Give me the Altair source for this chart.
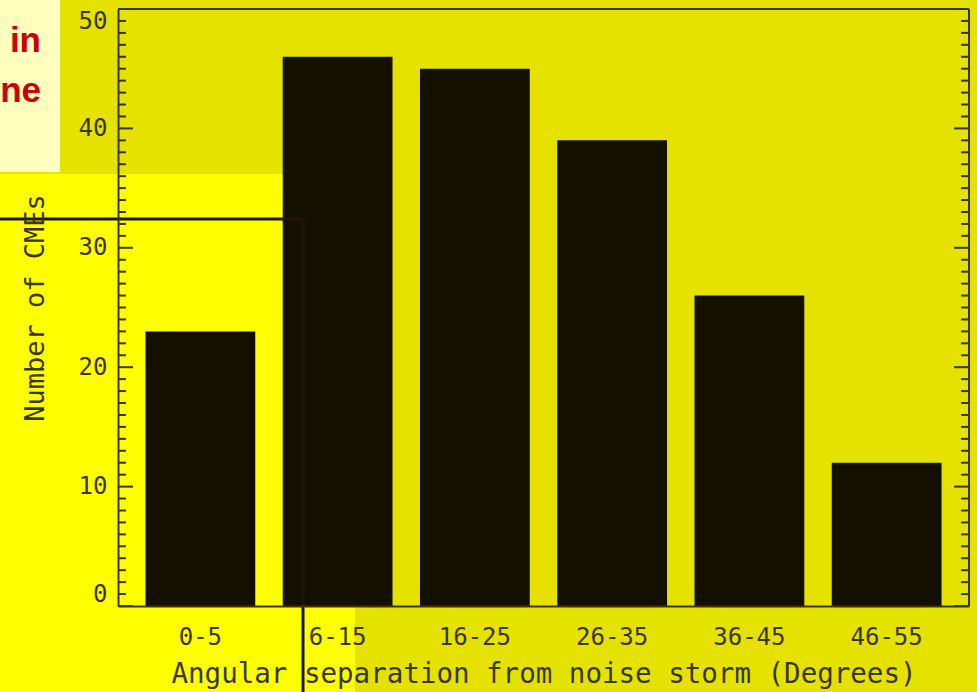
import altair as alt
import pandas as pd

# Histogram of CMEs by angular separation from the noise storm
categories = ["0-5", "6-15", "16-25", "26-35", "36-45", "46-55"]
counts = [23, 46, 45, 39, 26, 12]

major_ticks = [0, 10, 20, 30, 40, 50]
minor_ticks = [v for v in range(51) if v % 10]

note_lines = ["in", "ne"]

# plot-area size and the padding around it
W, H = 851, 597
PAD = {"left": 118, "top": 9, "right": 8, "bottom": 86}

INK = "#3a3600"
BAR = "#141000"
FONT = "DejaVu Sans Mono"

bars_df = pd.DataFrame({"sep": categories, "n": counts})
one = pd.DataFrame({"k": [0]})

x_axis = alt.Axis(
    title="Angular separation from noise storm (Degrees)",
    labelAngle=0, ticks=False, grid=False,
    domainColor=INK, domainWidth=2,
    labelFont=FONT, labelFontSize=24, labelColor=INK, labelPadding=19,
    titleFont=FONT, titleFontSize=27.5, titleFontWeight="normal", titleColor=INK,
    titleY=76, titleBaseline="alphabetic", zindex=1,
)
y_axis = alt.Axis(
    title="Number of CMEs",
    values=major_ticks, ticks=False, grid=False, labelFlush=True,
    domainColor=INK, domainWidth=2,
    labelFont=FONT, labelFontSize=24, labelColor=INK, labelPadding=11,
    titleFont=FONT, titleFontSize=27, titleFontWeight="normal", titleColor=INK,
    titleAngle=-90, titleX=-75, titleY=H / 2, titleAlign="center",
    titleBaseline="alphabetic", zindex=1,
)

y_scale = alt.Scale(domain=[0, 50], nice=False, zero=True)

# slide panels behind the chart
bright_panel = alt.Chart(one).mark_rect(color="#FFFF00").encode(
    x=alt.value(-PAD["left"]), x2=alt.value(237),
    y=alt.value(165), y2=alt.value(H + PAD["bottom"]),
)
note_panel = alt.Chart(one).mark_rect(color="#FFFFBE").encode(
    x=alt.value(-PAD["left"]), x2=alt.value(-58),
    y=alt.value(-PAD["top"]), y2=alt.value(163),
)
note_text = [
    alt.Chart(pd.DataFrame({"t": [line]})).mark_text(
        font="Liberation Sans", fontSize=35, fontWeight="bold",
        color="#CC0000", align="right", baseline="alphabetic",
    ).encode(text="t:N", x=alt.value(-77), y=alt.value(yb))
    for line, yb in zip(note_lines, [43, 93])
]

bars = alt.Chart(bars_df).mark_bar(color=BAR).encode(
    x=alt.X("sep:N", sort=categories,
            scale=alt.Scale(paddingInner=0.2, paddingOuter=0.2), axis=x_axis),
    y=alt.Y("n:Q", scale=y_scale, axis=y_axis),
)

def tick_layer(values, x0, x1):
    return alt.Chart(pd.DataFrame({"n": values})).mark_rule(
        color=INK, strokeWidth=2
    ).encode(y=alt.Y("n:Q", scale=y_scale), x=alt.value(x0), x2=alt.value(x1))

ticks = [
    tick_layer(major_ticks, 0, 15),
    tick_layer(minor_ticks, 0, 8),
    tick_layer(major_ticks, W - 15, W),
    tick_layer(minor_ticks, W - 8, W),
]

frame_top = alt.Chart(one).mark_rule(color=INK, strokeWidth=2).encode(
    x=alt.value(0), x2=alt.value(W), y=alt.value(0)
)
frame_right = alt.Chart(one).mark_rule(color=INK, strokeWidth=2).encode(
    x=alt.value(W), y=alt.value(0), y2=alt.value(H)
)

# crossing frame lines of the panel laid over the chart
cross_h = alt.Chart(one).mark_rule(color="#1c1800", strokeWidth=3).encode(
    x=alt.value(-PAD["left"]), x2=alt.value(185), y=alt.value(210)
)
cross_v = alt.Chart(one).mark_rule(color="#1c1800", strokeWidth=3).encode(
    x=alt.value(185), y=alt.value(210), y2=alt.value(H + PAD["bottom"])
)

chart = alt.layer(
    bright_panel, note_panel, *note_text, bars, *ticks,
    frame_top, frame_right, cross_h, cross_v,
).properties(
    width=W, height=H, padding=PAD, autosize="none",
    background="#E6E200",
).configure_view(stroke=None)

chart.save("out.html", embed_options={"renderer": "svg", "actions": False})
